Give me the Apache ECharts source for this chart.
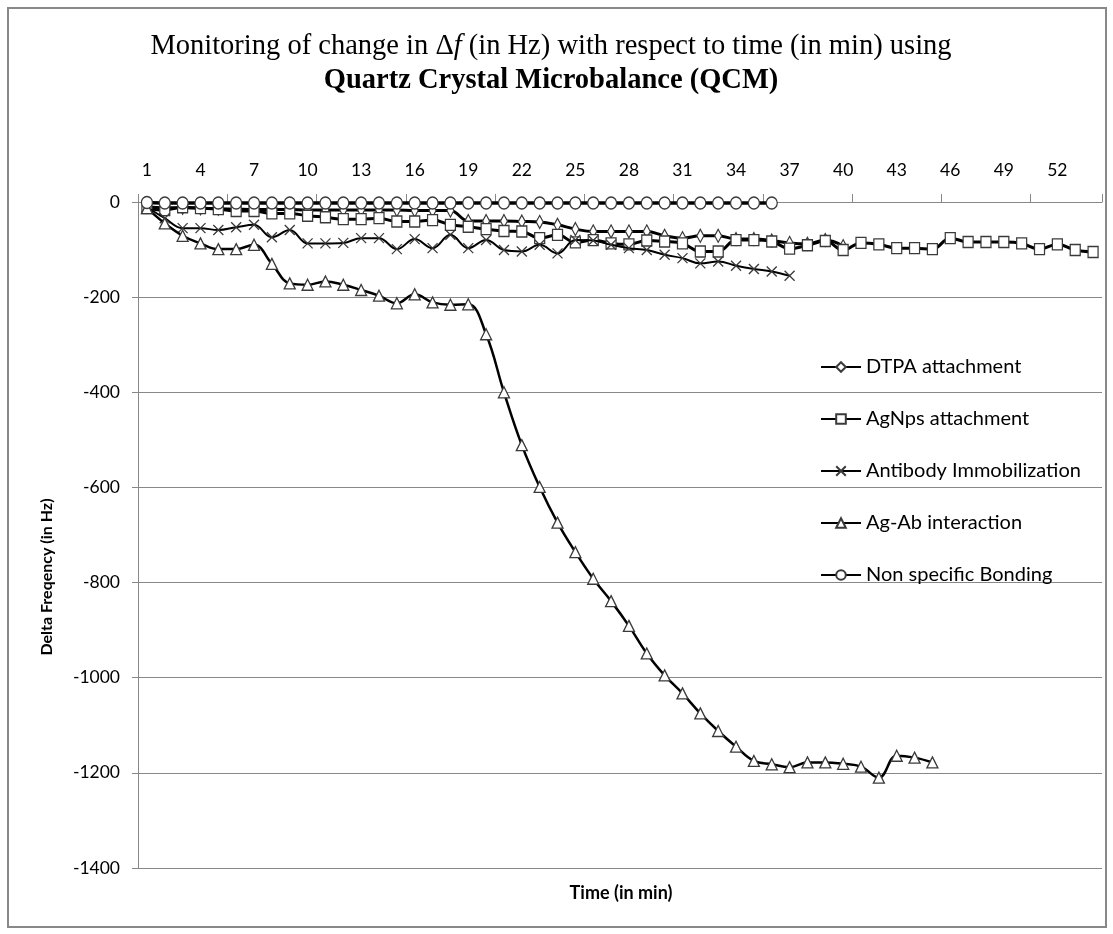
<!DOCTYPE html>
<html><head><meta charset="utf-8">
<script src="https://cdn.jsdelivr.net/npm/echarts@6/dist/echarts.min.js"></script>
<style>html,body{margin:0;padding:0;background:#fff}#c{width:1113px;height:934px}</style>
</head><body><div id="c"></div>
<script>
const categories = ['1','2','3','4','5','6','7','8','9','10','11','12','13','14','15','16','17','18','19','20','21','22','23','24','25','26','27','28','29','30','31','32','33','34','35','36','37','38','39','40','41','42','43','44','45','46','47','48','49','50','51','52','53','54'];
const dtpa = [-10,-12,-12,-13,-14,-15,-16,-16,-16,-17,-17,-17,-17,-17,-17,-18,-18,-18,-40,-40,-40,-41,-42,-48,-57,-62,-62,-62,-62,-71,-76,-71,-71,-78,-78,-81,-86,-88,-80,-93];
const agnps = [-13,-17,-11,-13,-15,-19,-19,-24,-24,-29,-32,-36,-36,-34,-41,-41,-38,-48,-52,-57,-61,-62,-76,-69,-85,-80,-87,-89,-81,-83,-87,-104,-104,-80,-80,-83,-98,-91,-82,-101,-86,-89,-97,-97,-99,-76,-84,-84,-84,-87,-99,-89,-101,-105];
const antibody = [-11,-34,-55,-55,-59,-53,-48,-74,-59,-87,-87,-86,-76,-76,-99,-78,-97,-69,-97,-80,-101,-104,-90,-108,-80,-81,-90,-97,-101,-111,-118,-129,-125,-134,-141,-146,-155];
const agab = [-13,-45,-71,-87,-99,-99,-90,-130,-171,-174,-167,-174,-185,-197,-213,-194,-211,-216,-215,-278,-400,-511,-599,-674,-736,-792,-839,-891,-949,-995,-1033,-1075,-1112,-1145,-1175,-1182,-1188,-1178,-1178,-1181,-1187,-1210,-1164,-1168,-1178];
const nonspecific = [-1,-2,-2,-2,-2,-2,-2,-2,-2,-2,-2,-2,-2,-2,-2,-2,-2,-2,-2,-2,-2,-2,-2,-2,-2,-2,-2,-2,-2,-2,-2,-2,-2,-2,-2,-2];
const yTicks = {min:-1400, max:0, step:200};

const chart = echarts.init(document.getElementById('c'), null, {renderer:'canvas'});
const F = 'Lato, "Open Sans", sans-serif';
const SERIF = '"Liberation Serif", serif';
const mk = (name, data, symbol, size, lw, z) => ({
  name, type:'line', data, smooth:0.4, symbol, symbolSize:size, showSymbol:true, showAllSymbol:true,
  lineStyle:{color:'#000', width:lw},
  itemStyle:{color:'#fff', borderColor:'#3a3a3a', borderWidth:1.3},
  emphasis:{disabled:true}, z, animation:false
});
chart.setOption({
  animation:false,
  backgroundColor:'#fff',
  grid:{left:138, right:11, top:202, bottom:66, containLabel:false},
  legend:{
    orient:'vertical', left:815, top:352, itemWidth:40, itemHeight:12, itemGap:32,
    textStyle:{fontFamily:F, fontSize:20, color:'#000', lineHeight:20},
    data:['DTPA attachment','AgNps attachment','Antibody Immobilization','Ag-Ab interaction','Non specific Bonding']
  },
  xAxis:{
    type:'category', data:categories, position:'top', boundaryGap:true,
    axisLine:{show:true, lineStyle:{color:'#888', width:1}},
    axisTick:{show:true, interval:4, length:8, lineStyle:{color:'#888'}},
    axisLabel:{interval:2, fontFamily:F, fontSize:17.5, color:'#000', margin:23},
    splitLine:{show:false}
  },
  yAxis:{
    type:'value', min:yTicks.min, max:yTicks.max, interval:yTicks.step,
    axisLine:{show:true, lineStyle:{color:'#888', width:1}},
    axisTick:{show:true, length:6, lineStyle:{color:'#888'}},
    axisLabel:{fontFamily:F, fontSize:17.5, color:'#000', margin:18, formatter:v => String(v)},
    splitLine:{show:true, lineStyle:{color:'#888', width:1}}
  },
  graphic:[
    {type:'rect', shape:{x:8, y:8, width:1098, height:919}, style:{fill:'none', stroke:'#888', lineWidth:2}, z:-10, silent:true},
    {type:'text', x:551, y:46, scaleX:0.95, style:{text:'Monitoring of change in Δ{i|f} (in Hz) with respect to time (in min) using', fontFamily:SERIF, fontSize:30, fill:'#000', align:'center', verticalAlign:'middle',
      rich:{i:{fontFamily:SERIF, fontSize:30, fontStyle:'italic', fill:'#000'}}}},
    {type:'text', x:551, y:80, scaleX:0.95, style:{text:'Quartz Crystal Microbalance (QCM)', fontFamily:SERIF, fontWeight:'bold', fontSize:30, fill:'#000', align:'center', verticalAlign:'middle'}},
    {type:'text', x:47, y:577, rotation:Math.PI/2, style:{text:'Delta Freqency (in Hz)', fontFamily:F, fontWeight:'bold', fontSize:16, fill:'#000', align:'center', verticalAlign:'middle'}},
    {type:'text', x:621, y:893, style:{text:'Time (in min)', fontFamily:F, fontWeight:'bold', fontSize:18, fill:'#000', align:'center', verticalAlign:'middle'}}
  ],
  series:[
    mk('DTPA attachment', dtpa, 'diamond', [7,13], 3, 2),
    mk('AgNps attachment', agnps, 'rect', [10,11], 3, 3),
    mk('Antibody Immobilization', antibody, 'path://M0,0L10,10M10,0L0,10', [10,10], 2, 4),
    mk('Ag-Ab interaction', agab, 'triangle', [11,11], 2.5, 5),
    mk('Non specific Bonding', nonspecific, 'circle', [11,12], 3.5, 6)
  ]
});
</script></body></html>
